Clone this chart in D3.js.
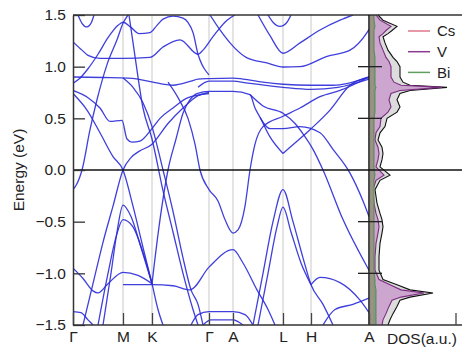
<!DOCTYPE html>
<html><head><meta charset="utf-8">
<script src="https://cdn.jsdelivr.net/npm/d3@7"></script>
<style>body{margin:0;background:#fff}svg{display:block}</style>
</head><body>
<svg id="chart" width="463" height="352"></svg>
<script>
// high-symmetry path: labels and cumulative path length
const kLabels = ["Γ", "M", "K", "Γ", "A", "L", "H", "A"];
const kNodes = [0, 50, 79, 136, 160, 210, 238, 296];
const energyTicks = [-1.5, -1.0, -0.5, 0.0, 0.5, 1.0, 1.5];

// band energies (eV) as [path position, energy] pairs
const band01 = [[5,1.5],[9,1.42],[14,1.385],[18,1.42],[21,1.5]];
const band02 = [[0,1.24],[9,1.16],[15,1.11],[27,1.08],[50,1.08],[77,1.09],[90,1.19],[107,1.26],[125,1.12],[130,1.16],[140,1.29],[154,1.45],[162,1.5]];
const band03 = [[0,0.84],[6,0.88],[15,0.98],[25,1.12],[35,1.28],[45,1.40],[50,1.43],[58,1.38],[66,1.32],[77,1.33],[84,1.40],[90,1.46],[100,1.49],[110,1.47],[120,1.33],[125,1.12],[129,1.02],[132,0.97],[136,0.92]];
const band04 = [[0,0.90],[30,0.895],[55,0.89],[65,0.88],[80,0.85],[100,0.82],[118,0.86],[125,0.88],[136,0.885],[160,0.89],[170,0.88],[190,0.85],[210,0.83],[238,0.82],[260,0.82],[296,0.90]];
const band05 = [[0,0.74],[14,0.58],[27,0.36],[40,0.13],[50,0.0],[60,-0.35],[70,-0.75],[79,-1.1],[85,-1.35],[90,-1.5]];
const band06 = [[0,0.77],[15,0.7],[27,0.6],[37,0.47],[49,0.48],[54,0.3],[59,0.27],[67,0.28],[79,0.4],[87,0.5],[100,0.6],[115,0.7],[136,0.74]];
const band07 = [[0,-0.19],[3,-0.15],[9,0.0],[17,0.39],[24,0.68],[34,1.02],[44,1.26],[50,1.42],[55,1.5]];
const band08 = [[30,-1.5],[38,-1.0],[44,-0.6],[50,-0.34],[58,-0.45],[68,-0.75],[79,-1.1]];
const band09 = [[25,-1.5],[35,-1.0],[43,-0.65],[50,-0.48],[60,-0.55],[70,-0.8],[79,-1.1]];
const band10 = [[10,-1.5],[20,-1.1],[30,-0.7],[40,-0.35],[50,0.0],[58,0.12],[66,0.18],[79,0.25],[95,0.45],[110,0.6],[125,0.72],[136,0.75]];
const band11 = [[0,-0.95],[10,-1.05],[20,-1.17],[25,-1.19],[35,-1.1],[50,-0.99],[65,-1.02],[79,-1.1]];
const band12 = [[0,-1.37],[8,-1.38],[15,-1.45],[20,-1.5]];
const band13 = [[50,-1.11],[79,-1.11],[100,-1.12],[117,-1.16],[136,-0.94],[160,-0.77],[170,-0.9],[184,-1.16],[195,-1.35],[202,-1.5]];
const band14 = [[79,-1.1],[86,-0.55],[95,0.0],[103,0.3],[110,0.55],[117,0.68],[124,0.74],[136,0.76],[160,0.76],[177,0.73],[182,0.6],[187,0.51],[197,0.32],[210,0.16]];
const band15 = [[95,0.85],[105,0.7],[115,0.5],[122,0.25],[127,0.0],[136,-0.19],[145,-0.3],[152,-0.48],[160,-0.61],[165,-0.58],[172,-0.35],[177,0.0],[182,0.25],[190,0.42],[210,0.52],[227,0.6],[247,0.71],[267,0.77],[296,0.9]];
const band16 = [[210,0.16],[217,0.22],[237,0.39],[257,0.58],[277,0.82],[296,0.90]];
const band17 = [[180,-1.5],[190,-1.0],[200,-0.5],[210,-0.19],[220,-0.5],[230,-0.85],[238,-1.11],[250,-1.3],[260,-1.5]];
const band18 = [[185,-1.5],[195,-1.0],[204,-0.55],[210,-0.36],[218,-0.6],[228,-0.9],[238,-1.11]];
const band19 = [[238,-1.11],[247,-1.04],[267,-1.09],[287,-1.26],[296,-1.38]];
const band20 = [[137,1.5],[147,1.355],[157,1.23],[174,1.085],[194,1.036],[210,0.997],[227,1.0],[254,1.1],[277,1.16],[294,1.33],[296,1.36]];
const band21 = [[187,0.51],[197,0.4],[210,0.4],[227,0.42],[247,0.36],[260,0.2],[277,-0.03],[290,-0.3],[296,-0.45]];
const band22 = [[56,1.5],[62,1.1],[70,0.6],[79,0.3],[90,-0.2],[100,-0.6],[110,-1.0],[120,-1.35],[125,-1.5]];
const band23 = [[50,0.89],[60,0.8],[70,0.65],[79,0.42],[90,0.0],[100,-0.4],[110,-0.85],[118,-1.16],[125,-1.3],[130,-1.5]];
const band24 = [[118,-1.5],[125,-1.4],[136,-1.37],[160,-1.37],[172,-1.4],[180,-1.5]];
const band25 = [[195,1.5],[200,1.43],[207,1.39],[214,1.43],[218,1.5]];
const band26 = [[185,1.5],[197,1.3],[210,1.13],[227,1.23],[247,1.355],[267,1.45],[280,1.5]];
const band27 = [[177,0.73],[190,0.62],[210,0.55],[222,0.45],[230,0.35],[240,0.2],[250,0.0],[270,-0.48],[296,-0.97]];
const band28 = [[125,0.8],[136,0.86],[160,0.86],[175,0.84],[210,0.8],[238,0.78],[265,0.8],[296,0.88]];
const band29 = [[130,-1.5],[138,-1.45],[160,-1.45],[170,-1.5]];
const band30 = [[250,-1.5],[262,-1.35],[280,-1.3],[296,-1.24]];
const bands = [band01,band02,band03,band04,band05,band06,band07,band08,band09,band10,band11,band12,
  band13,band14,band15,band16,band17,band18,band19,band20,band21,band22,band23,band24,
  band25,band26,band27,band28,band29,band30];

// projected density of states (a.u.) on an energy grid
const dosEnergy = [1.5,1.45,1.39,1.35,1.32,1.29,1.23,1.16,1.09,1.05,1.0,0.9,0.85,0.82,0.8,0.77,0.74,0.68,0.61,0.56,0.5,0.42,0.36,0.29,0.22,0.16,0.1,0.03,-0.05,-0.1,-0.19,-0.32,-0.42,-0.48,-0.55,-0.61,-0.71,-0.84,-0.97,-1.06,-1.11,-1.16,-1.19,-1.23,-1.26,-1.32,-1.39,-1.45,-1.5];
const dosTotal = [8,13,27,22,18,13,15,18,23,27,30,30,33,40,77,40,30,27,30,27,17,15,10,8,12,13,12,10,20,10,5,7,10,12,13,12,10,9,9,13,27,40,63,40,30,27,23,20,18];
const dosV     = [6,10,21,16,13,9,10,13,16,19,21,21,24,31,72,30,21,19,21,18,11,10,6,5,8,9,8,6,14,6,3,4,6,8,9,8,6,5,5,9,20,31,54,31,22,19,16,13,12];
const dosBi    = [4,4,5,4,4,4,4,4,5,5,5,5,5,5,6,5,5,5,5,5,4,4,4,4,4,4,4,4,5,4,4,4,4,4,4,4,4,4,4,5,5,6,6,6,6,6,6,6,6];
const dosCs    = [2,2,2,2,2,2,2,2,2,2,2,2,2,2,3,2,2,2,2,2,2,2,2,2,2,2,2,2,2,2,2,2,2,2,2,2,2,2,2,2,2,2,3,2,2,2,2,2,2];

const legendNames = ["Cs", "V", "Bi"];
const legendColors = ["#e0778a", "#8a3a8f", "#5f9f5f"];

const svg = d3.select("#chart");
const font = "'Liberation Sans', Arial, Helvetica, sans-serif";

const x = d3.scaleLinear().domain([0, 296]).range([73, 369]);
const y = d3.scaleLinear().domain([-1.5, 1.5]).range([325, 15]);
const xd = d3.scaleLinear().domain([0, 90]).range([370, 460]);

// vertical guides at high-symmetry points
svg.append("g").selectAll("line").data(kNodes.slice(1, -1)).join("line")
  .attr("x1", d => x(d)).attr("x2", d => x(d)).attr("y1", 15).attr("y2", 325)
  .attr("stroke", "#d9d9d9").attr("stroke-width", 1.4);

// bands
svg.append("defs").append("clipPath").attr("id", "bandClip")
  .append("rect").attr("x", 73).attr("y", 15).attr("width", 296).attr("height", 310);
const line = d3.line().x(d => x(d[0])).y(d => y(d[1])).curve(d3.curveMonotoneX);
svg.append("g").attr("clip-path", "url(#bandClip)").selectAll("path").data(bands).join("path")
  .attr("d", line).attr("fill", "none").attr("stroke", "#2a2ad8").attr("stroke-width", 1.3)
  .attr("stroke-opacity", 0.9);

// DOS areas
const dosRows = dosEnergy.map((e, i) => ({ e, t: dosTotal[i], v: dosV[i], bi: dosBi[i], cs: dosCs[i] }));
const area = key => d3.area().y(d => y(d.e)).x0(xd(0)).x1(d => xd(d[key]));
const edge = key => d3.line().y(d => y(d.e)).x(d => xd(d[key]));
svg.append("path").datum(dosRows).attr("d", area("t")).attr("fill", "#dcdcdc");
svg.append("path").datum(dosRows).attr("d", edge("t")).attr("fill", "none").attr("stroke", "#111").attr("stroke-width", 1.1);
svg.append("path").datum(dosRows).attr("d", area("v")).attr("fill", "#cda6cf");
svg.append("path").datum(dosRows).attr("d", edge("v")).attr("fill", "none").attr("stroke", "#7a2c80").attr("stroke-width", 1.1);
svg.append("path").datum(dosRows).attr("d", area("bi")).attr("fill", "#7f9a7f");
svg.append("path").datum(dosRows).attr("d", edge("bi")).attr("fill", "none").attr("stroke", "#4f8f4f").attr("stroke-width", 1);
svg.append("path").datum(dosRows).attr("d", edge("cs")).attr("fill", "none").attr("stroke", "#d9788a").attr("stroke-width", 1);

// Fermi level
svg.append("line").attr("x1", 73).attr("x2", 462).attr("y1", y(0)).attr("y2", y(0))
  .attr("stroke", "#111").attr("stroke-width", 1.3);

// frame
const frame = svg.append("g").attr("stroke", "#333").attr("stroke-width", 1.5);
frame.append("line").attr("x1", 73).attr("x2", 462).attr("y1", 15).attr("y2", 15);
frame.append("line").attr("x1", 369).attr("x2", 369).attr("y1", 15).attr("y2", 325).attr("stroke", "#111");

// energy axis
const yAxis = svg.append("g").attr("transform", "translate(73,0)")
  .call(d3.axisLeft(y).tickValues(energyTicks).tickFormat(d3.format(".1f")).tickSizeInner(-12).tickSizeOuter(0).tickPadding(7));
yAxis.select(".domain").attr("stroke", "#333").attr("stroke-width", 1.5);
yAxis.selectAll(".tick line").attr("stroke", "#333").attr("stroke-width", 1.3);
yAxis.selectAll("text").attr("font-family", font).attr("font-size", 15.5).attr("fill", "#222");

// ticks across the band/DOS divider
svg.append("g").selectAll("line").data([-1.0, -0.5, 0.5, 1.0]).join("line")
  .attr("x1", 358).attr("x2", 382).attr("y1", d => y(d)).attr("y2", d => y(d))
  .attr("stroke", "#222").attr("stroke-width", 1.3);

// path axis
const xAxis = svg.append("g").attr("transform", "translate(0,325)")
  .call(d3.axisBottom(x).tickValues(kNodes).tickFormat((d, i) => kLabels[i]).tickSizeInner(-12).tickSizeOuter(0).tickPadding(6));
xAxis.select(".domain").remove();
xAxis.selectAll(".tick line").attr("stroke", "#444").attr("stroke-width", 1.3);
xAxis.selectAll("text").attr("font-family", font).attr("font-size", 15.5).attr("fill", "#222");
svg.append("line").attr("x1", 73).attr("x2", 462).attr("y1", 325).attr("y2", 325).attr("stroke", "#333").attr("stroke-width", 1.5);

// DOS axis tick and title
svg.append("line").attr("x1", xd(86)).attr("x2", xd(86)).attr("y1", 313).attr("y2", 325).attr("stroke", "#444").attr("stroke-width", 1.3);
svg.append("text").attr("x", 422).attr("y", 344).attr("text-anchor", "middle")
  .attr("font-family", font).attr("font-size", 15.5).attr("fill", "#222").text("DOS(a.u.)");

// energy label
svg.append("text").attr("transform", "translate(24,170) rotate(-90)").attr("text-anchor", "middle")
  .attr("font-family", font).attr("font-size", 15.5).attr("fill", "#222").text("Energy (eV)");

// legend
const lg = svg.append("g").selectAll("g").data(legendNames).join("g")
  .attr("transform", (d, i) => `translate(408,${31 + i * 20.7})`);
lg.append("line").attr("x1", 0).attr("x2", 22).attr("stroke", (d, i) => legendColors[i]).attr("stroke-width", 1.5);
lg.append("text").attr("x", 29).attr("dy", "0.35em").attr("font-family", font).attr("font-size", 15)
  .attr("fill", "#222").text(d => d);
</script>
</body></html>
